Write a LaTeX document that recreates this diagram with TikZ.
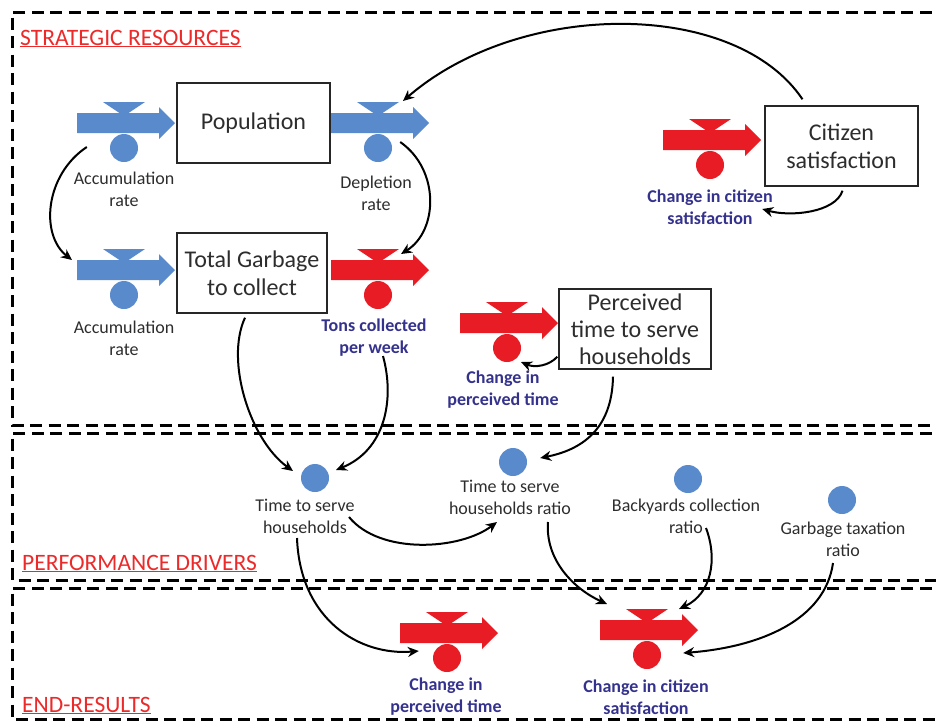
\documentclass[tikz,border=0pt]{standalone}
\usepackage{fontspec}
\setmainfont{Carlito}
\usetikzlibrary{arrows.meta,calc}
\definecolor{flowblue}{RGB}{88,138,204}
\definecolor{flowred}{RGB}{232,28,36}
\definecolor{lblblue}{RGB}{52,50,140}
\definecolor{headred}{RGB}{236,42,42}
\definecolor{txtgray}{RGB}{45,45,45}
\newcommand{\flowvalve}[4]{%
  \fill[#4] (#2-21,#3-21) -- (#2+21,#3-21) -- (#2,#3-7) -- cycle;
  \fill[#4] (#2-47,#3-10) -- (#2+35,#3-10) -- (#2+35,#3-16) -- (#2+51,#3) -- (#2+35,#3+16) -- (#2+35,#3+10) -- (#2-47,#3+10) -- cycle;
  \coordinate (#1tail) at (#2-47,#3);
  \coordinate (#1tl) at (#2-21,#3-21);
  \coordinate (#1tr) at (#2+21,#3-21);
  \node[valve,fill=#4] (#1) at (#2,#3+25) {};
}
\tikzset{
 valve/.style={circle,minimum size=28pt,inner sep=0pt},
 stock/.style={draw=black!85,line width=1.4pt,fill=white,minimum width=153pt,minimum height=80pt,align=center,font=\fontsize{24}{28}\selectfont,text=txtgray,inner sep=0pt},
 lbl/.style={align=center,font=\fontsize{18}{22}\selectfont,text=txtgray,inner sep=0pt},
 blbl/.style={align=center,font=\fontsize{18}{22}\selectfont\bfseries,text=lblblue,inner sep=0pt},
 head/.style={anchor=base west,font=\fontsize{23.5}{26}\selectfont,text=headred,inner sep=0pt},
 frame/.style={dash pattern=on 12pt off 6.5pt,line width=3pt},
 conn/.style={-{Stealth[length=11pt,width=10pt]},line width=2pt},
}
\begin{document}
\begin{tikzpicture}[x=1pt,y=-1pt]
\useasboundingbox (0,0) rectangle (936,721);
\begin{scope}
\clip (0,0) rectangle (936,721);
\draw[frame] (950,12) -- (12,12) -- (12,425) -- (950,425);
\draw[frame] (950,433) -- (12,433) -- (12,580) -- (950,580);
\draw[frame] (950,588) -- (12,588) -- (12,719) -- (950,719);
\end{scope}

\node[head] (hsr) at (20,45) {\underline{STRATEGIC RESOURCES}};
\node[head] (hpd) at (22,570) {\underline{PERFORMANCE DRIVERS}};
\node[head] (her) at (22,712) {\underline{END-RESULTS}};

\flowvalve{accA}{124}{123}{flowblue}
\flowvalve{dep}{378}{123}{flowblue}
\flowvalve{accB}{124}{270}{flowblue}
\flowvalve{tons}{378}{270}{flowred}
\flowvalve{chcs}{710}{140}{flowred}
\flowvalve{chpt}{507}{323}{flowred}
\flowvalve{ept}{447}{633}{flowred}
\flowvalve{ecs}{647}{630}{flowred}

\node[stock] (pop) at (253.5,123) {Population};
\node[stock,minimum width=150pt] (garb) at (252,273) {Total Garbage\\to collect};
\node[stock] (cit) at (841.5,146) {Citizen\\satisfaction};
\node[stock,minimum width=152pt,font=\fontsize{24}{27}\selectfont] (perc) at (635,329) {Perceived\\time to serve\\households};

\node[valve,fill=flowblue] (tts) at (315,478) {};
\node[valve,fill=flowblue] (ttsr) at (513,462) {};
\node[valve,fill=flowblue] (byc) at (688,479) {};
\node[valve,fill=flowblue] (gtr) at (842,500) {};

\node[lbl] (accAl) at (124,189) {Accumulation\\rate};
\node[lbl] (depl) at (376,193) {Depletion\\rate};
\node[lbl] (accBl) at (124,338) {Accumulation\\rate};
\node[blbl] (tonsl) at (374,338) {Tons collected\\per week};
\node[blbl] (chcsl) at (710,207) {Change in citizen\\satisfaction};
\node[blbl] (chptl) at (503,390) {Change in\\perceived time};
\node[lbl] (ttsl) at (305,516) {Time to serve\\households};
\node[lbl] (ttsrl) at (510,497) {Time to serve\\households ratio};
\node[lbl] (bycl) at (686,516) {Backyards collection\\ratio};
\node[lbl] (gtrl) at (843,539) {Garbage taxation\\ratio};
\node[blbl] (eptl) at (446,697) {Change in\\perceived time};
\node[blbl] (ecsl) at (646,697) {Change in citizen\\satisfaction};

\draw[conn] ($(accA.west)+(-23,-1)$) .. controls +(-42,28) and +(-32,-25) .. ($(accBtail)+(-5,-10)$);
\draw[conn] ($(dep.east)+(8,-6)$) .. controls +(40,28) and +(37,-23) .. ($(tonstr)+(2,5)$);
\draw[conn] ($(cit.north)+(-39,-6)$) .. controls +(-67,-100) and +(118,-102) .. ($(deptr)+(4,-1)$);
\draw[conn] ($(cit.south)+(1,4)$) .. controls +(-7,22) and +(28,8) .. ($(chcs.east)+(38,44)$);
\draw[conn] ($(perc.south west)+(-1,-13)$) .. controls +(-8,9) and +(14,6) .. ($(chpt)+(14,14)$);
\draw[conn] ($(perc.south)+(-22,7)$) .. controls +(-1,54) and +(40,-8) .. ($(ttsr.east)+(13,-4)$);
\draw[conn] ($(garb.south)+(-7,4)$) .. controls +(-20,43) and +(-43,-31) .. ($(tts)+(-22,-7)$);
\draw[conn] ($(tons)+(5,61)$) .. controls +(12,44) and +(49,-20) .. ($(tts)+(21,-8)$);
\draw[conn] ($(tts)+(34,39)$) .. controls +(31,38) and +(-37,28) .. ($(ttsr)+(-16,60)$);
\draw[conn] ($(tts)+(-18,60)$) .. controls +(3,82) and +(-59,5) .. ($(ept.west)+(-14,-7)$);
\draw[conn] ($(ttsr)+(35,60)$) .. controls +(-3,38) and +(-33,-15) .. ($(ecstl)+(-19,-5)$);
\draw[conn] ($(byc)+(18,49)$) .. controls +(12,32) and +(32,-15) .. ($(ecstr)+(11,0)$);
\draw[conn] ($(gtr)+(-9,63)$) .. controls +(-8,57) and +(77,-6) .. ($(ecs.east)+(22,-2)$);
\end{tikzpicture}
\end{document}
